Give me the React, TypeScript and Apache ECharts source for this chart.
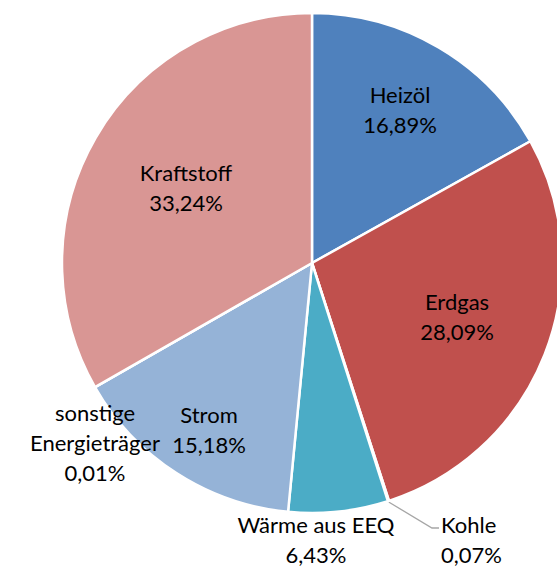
import React, { useEffect, useRef } from "react";
import * as echarts from "echarts";

const categories = ["Heizöl", "Erdgas", "Kohle", "Wärme aus EEQ", "Strom", "sonstige Energieträger", "Kraftstoff"];
const shares = [16.89, 28.09, 0.07, 6.43, 15.18, 0.01, 33.24];
const colors = ["#4F81BD", "#C0504D", "#9BBB59", "#4BACC6", "#95B3D7", "#F79646", "#D99694"];
const labelNames = ["Heizöl", "Erdgas", "Kohle", "Wärme aus EEQ", "Strom", "sonstige\nEnergieträger", "Kraftstoff"];

// label block centres (layout only)
const labelPos: Record<number, { x: number; y: number; align?: string }> = {
  0: { x: 400, y: 109 },
  1: { x: 457, y: 316 },
  2: { x: 441, y: 539, align: "left" },
  3: { x: 316, y: 539 },
  4: { x: 209, y: 429 },
  5: { x: 95, y: 442 },
  6: { x: 186, y: 187 },
};

export default function App() {
  const ref = useRef<HTMLDivElement>(null);
  useEffect(() => {
    if (!ref.current) return;
    const chart = echarts.init(ref.current, null, { renderer: "svg" });
    const fmt = (v: number) => v.toFixed(2).replace(".", ",") + "%";
    chart.setOption({
      animation: false,
      backgroundColor: "#fff",
      series: [
        {
          type: "pie",
          center: [312, 263],
          radius: [0, 250],
          startAngle: 90,
          clockwise: true,
          avoidLabelOverlap: false,
          minAngle: 0,
          itemStyle: { borderColor: "#fff", borderWidth: 2.5 },
          label: {
            show: true,
            position: "inside",
            fontFamily: "Lato",
            fontSize: 22,
            lineHeight: 30,
            color: "#000",
            align: "center",
            formatter: (p: any) => labelNames[p.dataIndex] + "\n" + fmt(p.value),
          },
          labelLine: { show: false },
          emphasis: { disabled: true },
          labelLayout: (p: any) => {
            const lp = labelPos[p.dataIndex];
            const res: any = {
              x: lp.x,
              y: lp.y,
              align: lp.align || "center",
              verticalAlign: "middle",
            };
            if (p.dataIndex === 2) {
              res.labelLinePoints = [
                [387, 501],
                [432, 528],
                [439, 528],
              ];
            }
            return res;
          },
          data: categories.map((c, i) => ({
            name: c,
            value: shares[i],
            itemStyle: { color: colors[i] },
            ...(i === 2
              ? {
                  label: { position: "outside", align: "left" },
                  labelLine: { show: true, length: 10, length2: 8, lineStyle: { color: "#A6A6A6", width: 1.3 } },
                }
              : i === 3 || i === 5
              ? { label: { position: "outside" } }
              : {}),
          })),
        },
      ],
    });
    return () => chart.dispose();
  }, []);
  return <div ref={ref} style={{ position: "fixed", left: 0, top: 0, width: 557, height: 570 }} />;
}
